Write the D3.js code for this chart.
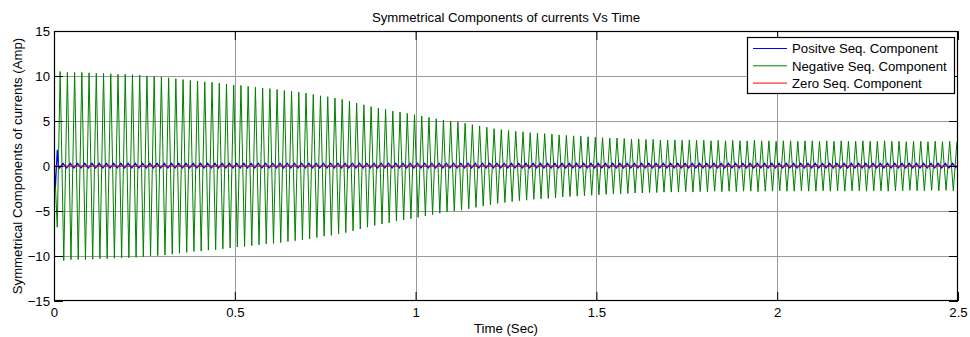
<!DOCTYPE html>
<html>
<head>
<meta charset="utf-8">
<script src="https://cdn.jsdelivr.net/npm/d3@7"></script>
<style>
  html, body { margin: 0; padding: 0; background: #fff; }
  svg { display: block; font-family: 'Liberation Sans', Arial, sans-serif; }
</style>
</head>
<body>
<div id="chart"></div>
<script>
// data (50 Hz, one amplitude per cycle)
const xTicks = [0, 0.5, 1, 1.5, 2, 2.5];
const yTicks = [-15, -10, -5, 0, 5, 10, 15];
const cyclePeriod = 0.02;
const firstPeak = 0.017;

const negSeqStart = [[0, 1.5], [0.009, -6.8]];
const negSeqAmp = [
  10.5, 10.4, 10.4, 10.4, 10.35, 10.3, 10.3, 10.25, 10.2, 10.2,
  10.15, 10.1, 10.0, 9.95, 9.9, 9.8, 9.7, 9.6, 9.5, 9.45,
  9.35, 9.3, 9.2, 9.1, 9.0, 8.95, 8.85, 8.75, 8.65, 8.6,
  8.5, 8.4, 8.3, 8.2, 8.1, 7.95, 7.8, 7.7, 7.55, 7.4,
  7.2, 7.0, 6.8, 6.6, 6.45, 6.3, 6.1, 6.0, 5.85, 5.7,
  5.55, 5.4, 5.25, 5.1, 5.0, 4.9, 4.75, 4.6, 4.45, 4.3,
  4.15, 4.05, 3.95, 3.85, 3.8, 3.7, 3.65, 3.6, 3.55, 3.45,
  3.4, 3.35, 3.3, 3.25, 3.2, 3.15, 3.1, 3.1, 3.05, 3.0,
  3.0, 2.95, 2.95, 2.9, 2.9, 2.9, 2.85, 2.9, 2.85, 2.85,
  2.8, 2.85, 2.8, 2.85, 2.8, 2.8, 2.85, 2.8, 2.8, 2.75,
  2.8, 2.8, 2.75, 2.8, 2.8, 2.75, 2.8, 2.75, 2.8, 2.75,
  2.75, 2.8, 2.75, 2.75, 2.8, 2.75, 2.75, 2.7, 2.75, 2.75,
  2.7, 2.75, 2.7, 2.75, 2.7
];

const posSeqStart = [[0, 0], [0.004, -2.3], [0.009, 1.8], [0.012, 0]];
const posSeqAmpByHalfSec = [0.3, 0.3, 0.3, 0.3, 0.3];

const zeroSeqTime = [0, 2.5];
const zeroSeqValue = [0, 0];

const legendLabels = ['Positve Seq. Component', 'Negative Seq. Component', 'Zero Seq. Component'];
const seriesColors = ['#0000ff', '#008000', '#ff0000'];

const width = 970;
const height = 337;
const margin = { top: 31, right: 12, bottom: 36, left: 54 };
const fontSize = 13.2;

const x = d3.scaleLinear().domain([0, 2.5]).range([margin.left, width - margin.right]);
const y = d3.scaleLinear().domain([-15, 15]).range([height - margin.bottom, margin.top]);

// build point lists from the arrays
const negSeq = negSeqStart.slice();
negSeqAmp.forEach((a, k) => {
  const tp = firstPeak + k * cyclePeriod;
  const tt = tp + cyclePeriod / 2;
  negSeq.push([tp, a]);
  if (tt <= 2.5) negSeq.push([tt, -a]);
});

const posSeq = posSeqStart.slice();
for (let k = 0; ; k++) {
  const tt = 0.015 + k * cyclePeriod;
  const tp = tt + cyclePeriod / 2;
  if (tt > 2.5) break;
  const a = posSeqAmpByHalfSec[Math.min(4, Math.floor(tt / 0.5))];
  posSeq.push([tt, -a * 0.75]);
  if (tp <= 2.5) posSeq.push([tp, a]);
}

const zeroSeq = zeroSeqTime.map((t, i) => [t, zeroSeqValue[i]]);

const svg = d3.select('#chart').append('svg').attr('width', width).attr('height', height);

svg.append('defs').append('clipPath').attr('id', 'plot-clip')
  .append('rect')
  .attr('x', margin.left).attr('y', margin.top)
  .attr('width', width - margin.left - margin.right)
  .attr('height', height - margin.top - margin.bottom);

// grid
const grid = svg.append('g').attr('stroke', '#9a9a9a').attr('stroke-width', 1);
xTicks.slice(1, -1).forEach((t) => {
  grid.append('line')
    .attr('x1', Math.round(x(t)) + 0.5).attr('x2', Math.round(x(t)) + 0.5)
    .attr('y1', margin.top).attr('y2', height - margin.bottom);
});
yTicks.slice(1, -1).forEach((v) => {
  grid.append('line')
    .attr('x1', margin.left).attr('x2', width - margin.right)
    .attr('y1', Math.round(y(v)) + 0.5).attr('y2', Math.round(y(v)) + 0.5);
});

const line = d3.line().x((d) => x(d[0])).y((d) => y(d[1]));
const plot = svg.append('g').attr('clip-path', 'url(#plot-clip)').attr('fill', 'none');

plot.append('path').datum(negSeq).attr('d', line)
  .attr('stroke', seriesColors[1]).attr('stroke-width', 1);
plot.append('path').datum(posSeq).attr('d', line)
  .attr('stroke', seriesColors[0]).attr('stroke-width', 1.2);
plot.append('path').datum(zeroSeq).attr('d', line)
  .attr('stroke', seriesColors[2]).attr('stroke-width', 1.2);

// axes box with inward ticks on all four sides
const tickLen = 9;
const axBottom = svg.append('g').attr('transform', `translate(0,${height - margin.bottom})`)
  .call(d3.axisBottom(x).tickValues(xTicks).tickSizeInner(-tickLen).tickSizeOuter(0).tickPadding(7)
    .tickFormat(d3.format('')));
const axTop = svg.append('g').attr('transform', `translate(0,${margin.top})`)
  .call(d3.axisTop(x).tickValues(xTicks).tickSizeInner(-tickLen).tickSizeOuter(0).tickFormat(''));
const axLeft = svg.append('g').attr('transform', `translate(${margin.left},0)`)
  .call(d3.axisLeft(y).tickValues(yTicks).tickSizeInner(-tickLen).tickSizeOuter(0).tickPadding(4));
const axRight = svg.append('g').attr('transform', `translate(${width - margin.right},0)`)
  .call(d3.axisRight(y).tickValues(yTicks).tickSizeInner(-tickLen).tickSizeOuter(0).tickFormat(''));

[axBottom, axTop, axLeft, axRight].forEach((g) => {
  g.select('.domain').remove();
  g.selectAll('line').attr('stroke', '#000');
  g.selectAll('text').attr('font-size', fontSize).attr('font-family', "'Liberation Sans', Arial, sans-serif").attr('fill', '#000');
});

svg.append('rect')
  .attr('x', margin.left + 0.5).attr('y', margin.top + 0.5)
  .attr('width', width - margin.left - margin.right - 1)
  .attr('height', height - margin.top - margin.bottom - 1)
  .attr('fill', 'none').attr('stroke', '#000').attr('stroke-width', 1.2);

// titles
const cxPlot = (margin.left + width - margin.right) / 2;
svg.append('text').attr('x', cxPlot).attr('y', 21.5).attr('text-anchor', 'middle')
  .attr('font-size', fontSize).text('Symmetrical Components of currents Vs Time');
svg.append('text').attr('x', cxPlot).attr('y', 333).attr('text-anchor', 'middle')
  .attr('font-size', fontSize).text('Time (Sec)');
svg.append('text')
  .attr('transform', `translate(22,${(margin.top + height - margin.bottom) / 2}) rotate(-90)`)
  .attr('text-anchor', 'middle').attr('font-size', fontSize)
  .text('Symmetrical Components of currents (Amp)');

// legend
const legend = svg.append('g').attr('transform', 'translate(747,37)');
legend.append('rect').attr('x', 0.5).attr('y', 0.5).attr('width', 207).attr('height', 56)
  .attr('fill', '#fff').attr('stroke', '#000').attr('stroke-width', 1.2);
legendLabels.forEach((label, i) => {
  const ly = 11.5 + i * 17.3;
  legend.append('line').attr('x1', 6).attr('x2', 40).attr('y1', ly).attr('y2', ly)
    .attr('stroke', seriesColors[i]).attr('stroke-width', 1);
  legend.append('text').attr('x', 45).attr('y', ly).attr('dy', '0.36em')
    .attr('font-size', fontSize).text(label);
});
</script>
</body>
</html>
